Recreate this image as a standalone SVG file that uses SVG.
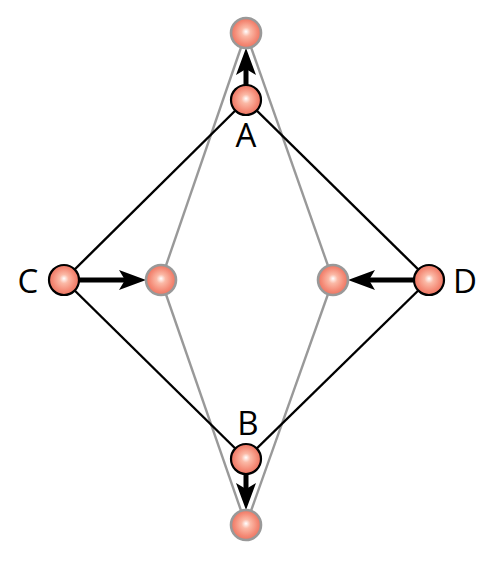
<svg xmlns="http://www.w3.org/2000/svg" width="500" height="566" viewBox="0 0 500 566">
<style>
.bl{stroke:#000;stroke-width:2.4;fill:none}
.gl{stroke:#999;stroke-width:2.4;fill:none}
.ar{stroke:#000;stroke-width:5;fill:none;marker-end:url(#ah)}
.n{fill:url(#rg);stroke:#000;stroke-width:2.2}
.g{fill:url(#rg);stroke:#999;stroke-width:2.6}
.t{font-family:"Open Sans","DejaVu Sans",sans-serif;font-size:33px;fill:#000}
</style>
<defs>
<radialGradient id="rg" cx="0.5" cy="0.5" r="0.5" fx="0.5" fy="0.45">
<stop offset="0" stop-color="#fff"/>
<stop offset="0.3" stop-color="#fbb9a6"/>
<stop offset="0.75" stop-color="#f48a76"/>
<stop offset="1" stop-color="#ec7562"/>
</radialGradient>
<marker id="ah" markerUnits="userSpaceOnUse" viewBox="-20 -11 30 22" refX="-1" refY="0" markerWidth="30" markerHeight="22" orient="auto">
<path d="M8,0 L-19,-10 L-13,0 L-19,10 Z" fill="#000"/>
</marker>
</defs>
<g id="connectors">
<line class="gl" x1="246" y1="33" x2="161" y2="280"/>
<line class="gl" x1="246" y1="33" x2="333" y2="280"/>
<line class="gl" x1="161" y1="280" x2="246" y2="525"/>
<line class="gl" x1="333" y1="280" x2="246" y2="525"/>
<line class="bl" x1="246" y1="100" x2="64" y2="280"/>
<line class="bl" x1="246" y1="100" x2="429" y2="280"/>
<line class="bl" x1="64" y1="280" x2="246" y2="459"/>
<line class="bl" x1="429" y1="280" x2="246" y2="459"/>
<line class="ar" x1="246" y1="86" x2="246" y2="57"/>
<line class="ar" x1="78" y1="280" x2="137" y2="280"/>
<line class="ar" x1="415" y1="280" x2="357" y2="280"/>
<line class="ar" x1="246" y1="473" x2="246" y2="501"/>
</g>
<g id="top"><circle class="g" cx="246" cy="33" r="15"/></g>
<g id="bottom"><circle class="g" cx="246" cy="525" r="15"/></g>
<g id="left"><circle class="g" cx="161" cy="280" r="15"/></g>
<g id="right"><circle class="g" cx="333" cy="280" r="15"/></g>
<g id="A"><circle class="n" cx="246" cy="100" r="15"/><text class="t" x="246" y="147" text-anchor="middle">A</text></g>
<g id="B"><circle class="n" cx="246" cy="459" r="15"/><text class="t" x="248" y="435" text-anchor="middle">B</text></g>
<g id="C"><circle class="n" cx="64" cy="280" r="15"/><text class="t" x="28" y="293" text-anchor="middle">C</text></g>
<g id="D"><circle class="n" cx="429" cy="280" r="15"/><text class="t" x="465" y="293" text-anchor="middle">D</text></g>
</svg>
